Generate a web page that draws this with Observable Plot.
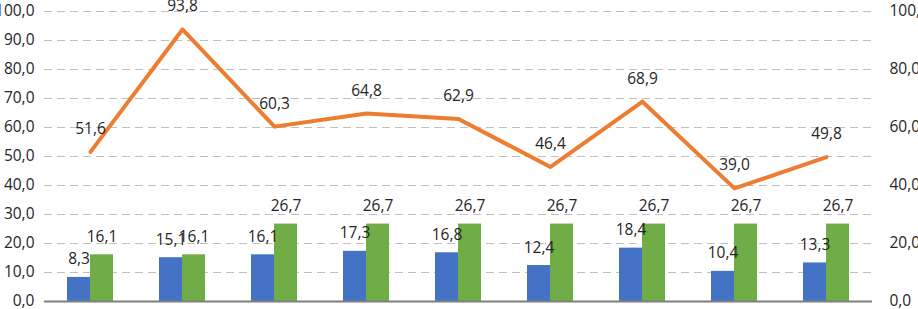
<!DOCTYPE html>
<html>
<head>
<meta charset="utf-8">
<script src="https://cdn.jsdelivr.net/npm/d3@7"></script>
<script src="https://cdn.jsdelivr.net/npm/@observablehq/plot@0.6"></script>
<style>
  html, body { margin: 0; padding: 0; background: #fff; }
  #chart svg { display: block; }
</style>
</head>
<body>
<div id="chart"></div>
<script>
const categories = ["1", "2", "3", "4", "5", "6", "7", "8", "9"];
const blueValues = [8.3, 15.1, 16.1, 17.3, 16.8, 12.4, 18.4, 10.4, 13.3];
const greenValues = [16.1, 16.1, 26.7, 26.7, 26.7, 26.7, 26.7, 26.7, 26.7];
const lineValues = [51.6, 93.8, 60.3, 64.8, 62.9, 46.4, 68.9, 39.0, 49.8];
const leftTicks = [0, 10, 20, 30, 40, 50, 60, 70, 80, 90, 100];
const rightTicks = [0, 20, 40, 60, 80, 100];

const blue = categories.map((c, i) => ({c, v: blueValues[i]}));
const green = categories.map((c, i) => ({c, v: greenValues[i]}));
const line = categories.map((c, i) => ({c, v: lineValues[i]}));

const fmt = d => d3.format(".1f")(d).replace(".", ",");
const FONT = "'Open Sans', 'Liberation Sans', Arial, sans-serif";
const TXT = "#262626";
const FS = 15.5;

const chart = Plot.plot({
  width: 918,
  height: 309,
  marginLeft: 44,
  marginRight: 46,
  marginTop: 11,
  marginBottom: 8,
  style: {fontFamily: FONT, fontSize: FS + "px", color: TXT, background: "#fff"},
  x: {type: "band", domain: categories, padding: 0, axis: null},
  y: {domain: [0, 100], axis: null},
  marks: [
    Plot.ruleY(leftTicks.filter(d => d > 0), {stroke: "#c0c0c0", strokeWidth: 1.2, strokeDasharray: "8,5"}),
    Plot.barY(blue, {x: "c", y: "v", fill: "#4472C4", insetLeft: 23, insetRight: 46}),
    Plot.barY(green, {x: "c", y: "v", fill: "#70AD47", insetLeft: 46, insetRight: 23}),
    Plot.ruleY([0], {stroke: "#7f7f7f", strokeWidth: 2}),
    Plot.line(line, {x: "c", y: "v", stroke: "#ED7D31", strokeWidth: 4, strokeLinejoin: "round"}),
    Plot.text(line, {x: "c", y: "v", text: d => fmt(d.v), dy: -23, fill: TXT, fontSize: FS}),
    Plot.text(blue, {x: "c", y: "v", text: d => fmt(d.v), dx: -11.5, dy: -18, fill: TXT, fontSize: FS}),
    Plot.text(green, {x: "c", y: "v", text: d => fmt(d.v), dx: 11.5, dy: -18, fill: TXT, fontSize: FS}),
    Plot.axisY({anchor: "left", ticks: leftTicks, tickFormat: fmt, tickSize: 0, tickPadding: 10, fontSize: FS, fill: TXT, label: null}),
    Plot.axisY({anchor: "right", ticks: rightTicks, tickFormat: fmt, tickSize: 0, tickPadding: 17, fontSize: FS, fill: TXT, label: null})
  ]
});
document.getElementById("chart").appendChild(chart);
</script>
</body>
</html>
